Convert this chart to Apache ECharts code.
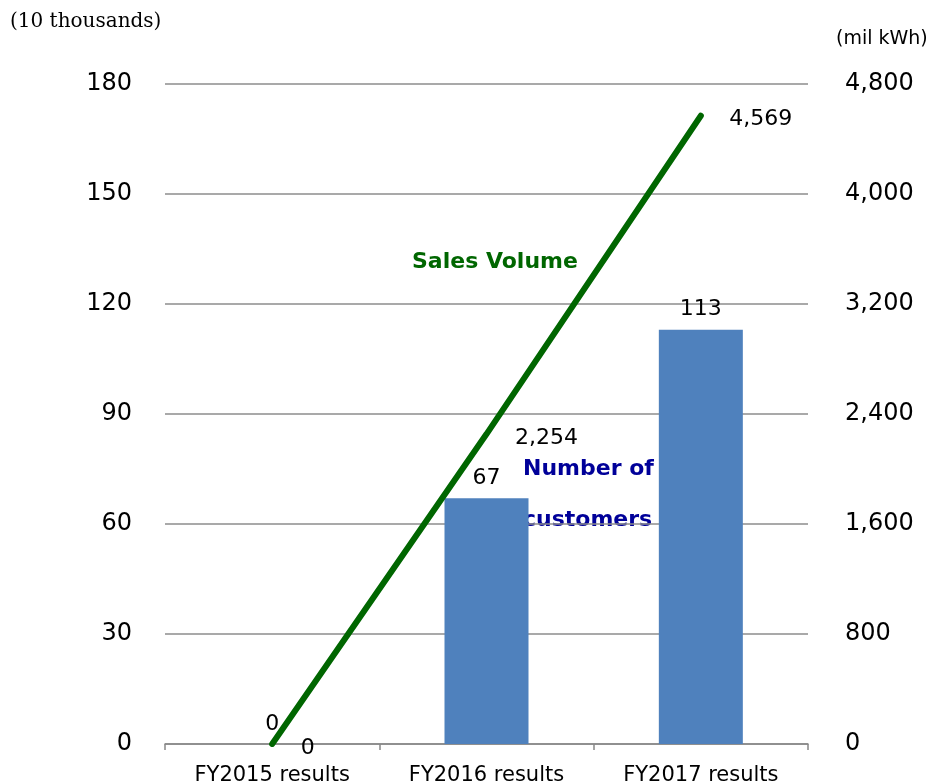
<!DOCTYPE html>
<html>
<head>
<meta charset="utf-8">
<script src="https://cdn.jsdelivr.net/npm/echarts@6/dist/echarts.min.js"></script>
<style>
  html, body { margin: 0; padding: 0; background: #fff; }
  #main { width: 934px; height: 784px; }
</style>
</head>
<body>
<div id="main"></div>
<script>
// categories and values
const categories = ['FY2015 results', 'FY2016 results', 'FY2017 results'];
const customers = [0, 67, 113];        // 10 thousands (left axis)
const salesVolume = [0, 2254, 4569];   // mil kWh (right axis)

const chart = echarts.init(document.getElementById('main'));

const fmt = v => v.toLocaleString('en-US');

const option = {
  animation: false,
  grid: { left: 165, right: 126, top: 84, bottom: 40, outerBoundsMode: 'none', containLabel: false },
  xAxis: {
    type: 'category',
    data: categories,
    axisLine: { lineStyle: { color: '#888', width: 1.5 } },
    axisTick: { show: true, length: 6, lineStyle: { color: '#888', width: 1.5 } },
    axisLabel: { fontFamily: 'DejaVu Sans', fontSize: 21, color: '#000', margin: 21 }
  },
  yAxis: [
    {
      type: 'value', min: 0, max: 180, interval: 30,
      axisLine: { show: false }, axisTick: { show: false },
      splitLine: { lineStyle: { color: '#8c8c8c', width: 1.5 } },
      axisLabel: { fontFamily: 'DejaVu Sans', fontSize: 24, color: '#000', margin: 33 }
    },
    {
      type: 'value', min: 0, max: 4800, interval: 800,
      axisLine: { show: false }, axisTick: { show: false },
      splitLine: { show: false },
      axisLabel: { fontFamily: 'DejaVu Sans', fontSize: 24, color: '#000', margin: 37, formatter: fmt }
    }
  ],
  series: [
    {
      name: 'Number of customers',
      type: 'bar',
      yAxisIndex: 0,
      data: customers,
      barWidth: 84,
      itemStyle: { color: '#4f81bd' },
      label: {
        show: true, position: 'top', distance: 9,
        fontFamily: 'DejaVu Sans', fontSize: 22, color: '#000'
      }
    },
    {
      name: 'Sales Volume',
      type: 'line',
      yAxisIndex: 1,
      data: salesVolume,
      symbol: 'circle',
      symbolSize: 1,
      showSymbol: true,
      itemStyle: { color: 'rgba(0,0,0,0)' },
      lineStyle: { color: '#006600', width: 6, cap: 'round' },
      label: {
        show: true, position: 'right', distance: 28, offset: [0, 4],
        fontFamily: 'DejaVu Sans', fontSize: 22, color: '#000', formatter: p => fmt(p.value)
      },
      z: 5
    }
  ],
  graphic: [
    { type: 'text', left: 10, top: 12, style: { text: '(10 thousands)', font: '20px "DejaVu Serif"', fill: '#000' } },
    { type: 'text', left: 836, top: 30, style: { text: '(mil kWh)', font: '19px "DejaVu Sans"', fill: '#000' } },
    { type: 'text', left: 412, top: 251, style: { text: 'Sales Volume', font: 'bold 22px "DejaVu Sans"', fill: '#006600' } },
    { type: 'text', left: 523, top: 458, style: { text: 'Number of', font: 'bold 22px "DejaVu Sans"', fill: '#000099' } },
    { type: 'text', left: 523, top: 509, style: { text: 'customers', font: 'bold 22px "DejaVu Sans"', fill: '#000099' } }
  ]
};

chart.setOption(option);
</script>
</body>
</html>
